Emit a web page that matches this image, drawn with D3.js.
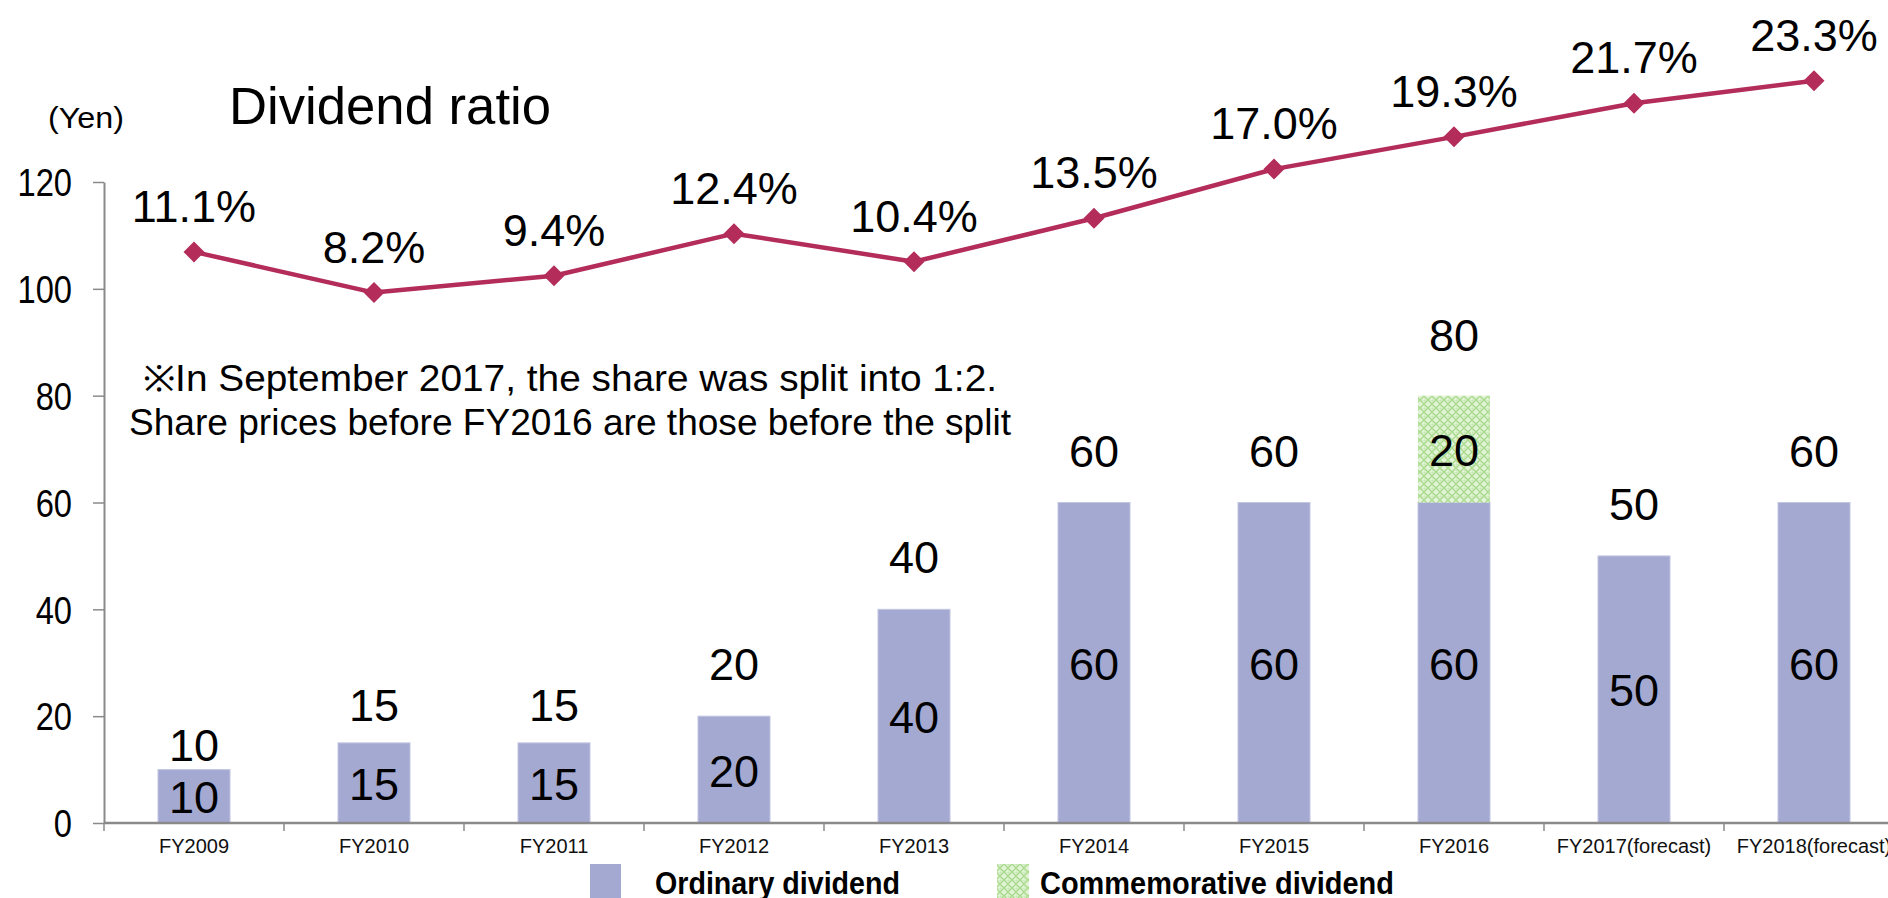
<!DOCTYPE html>
<html>
<head>
<meta charset="utf-8">
<script src="https://cdn.jsdelivr.net/npm/d3@7"></script>
<style>
  html, body { margin: 0; padding: 0; background: #fff; overflow: hidden; }
  svg { display: block; font-family: "Liberation Sans", Arial, sans-serif; }
</style>
</head>
<body>
<svg id="chart" width="1888" height="898"></svg>
<script>
// ---------- data ----------
const categories = ["FY2009","FY2010","FY2011","FY2012","FY2013","FY2014","FY2015","FY2016","FY2017(forecast)","FY2018(forecast)"];
const ordinaryDividend = [10, 15, 15, 20, 40, 60, 60, 60, 50, 60];
const commemorativeDividend = [0, 0, 0, 0, 0, 0, 0, 20, 0, 0];
const dividendRatio = [11.1, 8.2, 9.4, 12.4, 10.4, 13.5, 17.0, 19.3, 21.7, 23.3];
const yTicks = [0, 20, 40, 60, 80, 100, 120];
const seriesNames = ["Ordinary dividend", "Commemorative dividend"];
const titleText = "Dividend ratio";
const unitText = "(Yen)";
const noteLines = ["\u00a0※In September 2017, the share was split into 1:2.", "Share prices before FY2016 are those before the split"];

// ---------- layout ----------
const W = 1888, H = 898;
const FONT = '"Liberation Sans", Arial, sans-serif';
const barColor = "#A4A9D2";
const lineColor = "#B32C5A";
const axisColor = "#8A8A8A";

const svg = d3.select("#chart");

// pattern for commemorative dividend
const defs = svg.append("defs");
const pat = defs.append("pattern").attr("id", "greenPat")
  .attr("patternUnits", "userSpaceOnUse").attr("width", 8).attr("height", 8);
pat.append("rect").attr("width", 8).attr("height", 8).attr("fill", "#E4F4D8");
pat.append("path").attr("d", "M0,4 L4,0 L8,4 L4,8 Z").attr("fill", "none")
  .attr("stroke", "#A6DA88").attr("stroke-width", 1.4);
pat.append("path").attr("d", "M0,0 L8,0 M0,0 L0,8").attr("fill", "none")
  .attr("stroke", "#B9E2A2").attr("stroke-width", 0.8);

const x = d3.scaleBand().domain(categories).range([104, 1904])
  .paddingInner(0.6).paddingOuter(0.3);
const xEdge = d3.scaleBand().domain(categories).range([104, 1904]).padding(0);
const y = d3.scaleLinear().domain([0, 120]).range([823, 182]);
const y2 = d3.scaleLinear().domain([0, 25]).range([407.6, 56.9]);

function condense(sel, factor) {
  sel.each(function () {
    const w = this.getComputedTextLength();
    this.setAttribute("textLength", w * factor);
    this.setAttribute("lengthAdjust", "spacingAndGlyphs");
  });
}
function fitTo(sel, width) {
  sel.attr("textLength", width).attr("lengthAdjust", "spacingAndGlyphs");
}

// ---------- bars ----------
const rows = categories.map((c, i) => ({
  cat: c, ord: ordinaryDividend[i], com: commemorativeDividend[i],
  total: ordinaryDividend[i] + commemorativeDividend[i]
}));

const gBars = svg.append("g");
gBars.selectAll("rect.ord").data(rows).join("rect").attr("class", "ord")
  .attr("x", d => x(d.cat)).attr("width", x.bandwidth())
  .attr("y", d => y(d.ord)).attr("height", d => y(0) - y(d.ord))
  .attr("fill", barColor).attr("stroke", "#C3C6E2").attr("stroke-width", 1);
gBars.selectAll("rect.com").data(rows.filter(d => d.com > 0)).join("rect").attr("class", "com")
  .attr("x", d => x(d.cat)).attr("width", x.bandwidth())
  .attr("y", d => y(d.total)).attr("height", d => y(d.ord) - y(d.total))
  .attr("fill", "url(#greenPat)");

// ---------- axes ----------
const yAxis = d3.axisLeft(y).tickValues(yTicks).tickSize(11).tickSizeOuter(0).tickPadding(21);
const gy = svg.append("g").attr("transform", "translate(104,0)").call(yAxis);
gy.select(".domain").attr("stroke", axisColor).attr("stroke-width", 2);
gy.selectAll(".tick line").attr("stroke", axisColor).attr("stroke-width", 1.5);
gy.selectAll(".tick text").attr("font-family", FONT).attr("font-size", 38).attr("fill", "#000")
  .attr("dy", "0.36em");
condense(gy.selectAll(".tick text"), 0.86);

const xAxis = d3.axisBottom(x).tickSize(0).tickSizeOuter(0).tickPadding(16);
const gx = svg.append("g").attr("transform", `translate(0,${y(0)})`).call(xAxis);
gx.select(".domain").remove();
gx.selectAll(".tick text").attr("font-family", FONT).attr("font-size", 20).attr("fill", "#111")
  .attr("dy", "0.71em");
svg.append("line").attr("x1", 104).attr("x2", W).attr("y1", y(0)).attr("y2", y(0))
  .attr("stroke", axisColor).attr("stroke-width", 2.5);
svg.append("g").selectAll("line").data(categories).join("line")
  .attr("x1", d => xEdge(d)).attr("x2", d => xEdge(d))
  .attr("y1", y(0)).attr("y2", y(0) + 8)
  .attr("stroke", axisColor).attr("stroke-width", 1.5);

// ---------- bar labels ----------
const gLab = svg.append("g").attr("font-family", FONT).attr("font-size", 45)
  .attr("text-anchor", "middle").attr("fill", "#000");
gLab.selectAll("text.inOrd").data(rows).join("text").attr("class", "inOrd")
  .attr("x", d => x(d.cat) + x.bandwidth() / 2)
  .attr("y", d => (y(0) + y(d.ord)) / 2 + 17)
  .text(d => d.ord);
gLab.selectAll("text.inCom").data(rows.filter(d => d.com > 0)).join("text").attr("class", "inCom")
  .attr("x", d => x(d.cat) + x.bandwidth() / 2)
  .attr("y", d => (y(d.ord) + y(d.total)) / 2 + 17)
  .text(d => d.com);
const lift = { "FY2009": 25, "FY2010": 38, "FY2011": 38, "FY2016": 61 };
gLab.selectAll("text.tot").data(rows).join("text").attr("class", "tot")
  .attr("x", d => x(d.cat) + x.bandwidth() / 2)
  .attr("y", d => y(d.total) - (lift[d.cat] || 52) + 16)
  .text(d => d.total);

// ---------- dividend ratio line ----------
const cx = c => x(c) + x.bandwidth() / 2;
const line = d3.line().x((d, i) => cx(categories[i])).y(d => y2(d));
svg.append("path").datum(dividendRatio).attr("d", line)
  .attr("fill", "none").attr("stroke", lineColor).attr("stroke-width", 4.5)
  .attr("stroke-linejoin", "round");
svg.append("g").selectAll("path").data(dividendRatio).join("path")
  .attr("transform", (d, i) => `translate(${cx(categories[i])},${y2(d)})`)
  .attr("d", "M0,-10.5 L10.5,0 L0,10.5 L-10.5,0 Z").attr("fill", lineColor);
svg.append("g").attr("font-family", FONT).attr("font-size", 45).attr("text-anchor", "middle")
  .selectAll("text").data(dividendRatio).join("text")
  .attr("x", (d, i) => cx(categories[i]))
  .attr("y", d => y2(d) - 30)
  .text(d => d.toFixed(1) + "%");

// ---------- titles / notes ----------
fitTo(svg.append("text").attr("x", 229).attr("y", 124).attr("font-family", FONT)
  .attr("font-size", 51).text(titleText), 322);
fitTo(svg.append("text").attr("x", 48).attr("y", 128).attr("font-family", FONT)
  .attr("font-size", 29).text(unitText), 76);
fitTo(svg.append("text").attr("x", 132).attr("y", 391).attr("font-family", FONT)
  .attr("font-size", 36).text(noteLines[0]), 865);
fitTo(svg.append("text").attr("x", 129).attr("y", 435).attr("font-family", FONT)
  .attr("font-size", 36).text(noteLines[1]), 882);

// ---------- legend ----------
const legend = svg.append("g");
legend.append("rect").attr("x", 590).attr("y", 864).attr("width", 31).attr("height", 40).attr("fill", barColor);
legend.append("rect").attr("x", 997).attr("y", 864).attr("width", 32).attr("height", 40).attr("fill", "url(#greenPat)");
fitTo(legend.append("text").attr("x", 655).attr("y", 894).attr("font-family", FONT)
  .attr("font-size", 31).attr("font-weight", "bold").text(seriesNames[0]), 245);
fitTo(legend.append("text").attr("x", 1040).attr("y", 894).attr("font-family", FONT)
  .attr("font-size", 31).attr("font-weight", "bold").text(seriesNames[1]), 354);
</script>
</body>
</html>
